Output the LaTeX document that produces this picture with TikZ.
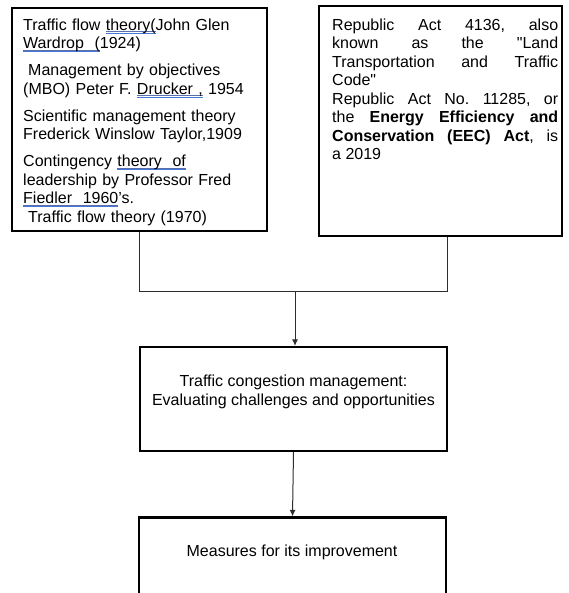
\documentclass[tikz,border=0pt]{standalone}
\usepackage{fontspec}
\setmainfont{Liberation Sans}
\newfontfamily\qfont{Liberation Sans}[Ligatures=TeXOff]
\usetikzlibrary{arrows.meta}
\definecolor{ulblue}{RGB}{70,120,215}
\definecolor{ulgray}{RGB}{90,110,170}
\definecolor{linegray}{RGB}{45,45,45}
\newsavebox\gulbox
\newcommand\gul[1]{\leavevmode\sbox\gulbox{#1}\rlap{\color{ulgray}\rule[-1.9pt]{\wd\gulbox}{0.6pt}}\rlap{\color{ulblue}\rule[-3.9pt]{\wd\gulbox}{1pt}}\usebox\gulbox}
\newcommand\sq{{\qfont"}}
\frenchspacing
\begin{document}
\begin{tikzpicture}[x=1pt,y=-1pt,
  frame/.style={draw=black, line width=2.2pt, inner sep=0pt},
  txt/.style={inner sep=0pt, font=\fontsize{16}{18.5}\selectfont},
  conn/.style={draw=linegray, line width=1pt},
  arr/.style={conn, -{Latex[length=6.5pt,width=6pt]}}]
\useasboundingbox (0,0) rectangle (568,593);
\clip (0,0) rectangle (568,593);
% boxes
\node[frame, minimum width=255pt, minimum height=223pt] (lbox) at (139.5,119.5) {};
\node[frame, minimum width=243pt, minimum height=230pt] (rbox) at (440.5,121) {};
\node[frame, minimum width=307pt, minimum height=104pt] (mbox) at (293.5,399) {};
\node[frame, minimum width=307pt, minimum height=140pt] (bbox) at (292.5,587.5) {};
% texts
\node[txt, anchor=north west, text width=240pt, align=left] (ltxt) at (23,18.3) {%
Traffic flow \gul{theory(}John Glen\\
\gul{Wardrop~ (}1924)\\[8.5pt]
\hspace*{5pt}Management by objectives\\
(MBO) Peter F. \gul{Drucker ,} 1954\\[8.5pt]
Scientific management theory\\
Frederick Winslow Taylor,1909\\[8.5pt]
Contingency \gul{theory~ of}\\
leadership by Professor Fred\\
\gul{Fiedler~ 1960}'s.\\
\hspace*{5pt}Traffic flow theory (1970)};
\node[txt, anchor=north west, text width=226pt, align=justify] (rtxt) at (332,18.3) {%
\parindent=0pt\hyphenpenalty=10000
Republic Act 4136, also\linebreak known as the \sq Land\linebreak Transportation and Traffic\linebreak Code\sq\par
Republic Act No. 11285, or\linebreak the \textbf{Energy Efficiency and\linebreak Conservation (EEC) Act}, is\linebreak a 2019\par};
\node[txt, align=center] (mtxt) at (293.5,392) {Traffic congestion management:\\Evaluating challenges and opportunities};
\node[txt] (btxt) at (292,552) {Measures for its improvement};
% connectors
\coordinate (j) at (295,291);
\coordinate (rfoot) at (447,291);
\draw[conn] (lbox.south) |- (rfoot) -- (rfoot |- rbox.south);
\draw[arr] (j) -- (j |- mbox.north);
\draw[arr] (mbox.south) -- (bbox.north);
\end{tikzpicture}
\end{document}
